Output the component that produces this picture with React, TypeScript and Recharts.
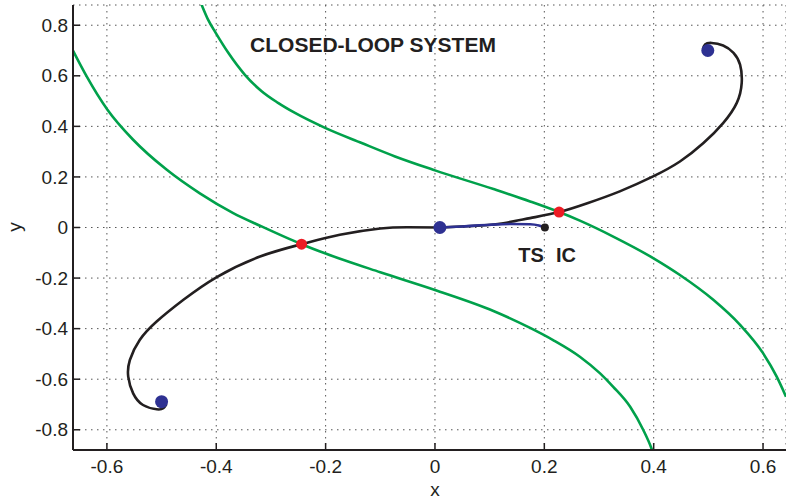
import React from "react";
import {
  ComposedChart,
  Line,
  Scatter,
  XAxis,
  YAxis,
  CartesianGrid,
} from "recharts";

// tick values
const xTicks = [-0.6, -0.4, -0.2, 0, 0.2, 0.4, 0.6];
const yTicks = [-0.8, -0.6, -0.4, -0.2, 0, 0.2, 0.4, 0.6, 0.8];

// green curve crossing from upper left down to the bottom
const greenAX = [-0.663, -0.637, -0.599, -0.552, -0.491, -0.43, -0.369, -0.32, -0.244, -0.2, -0.1, 0, 0.107, 0.174, 0.216, 0.265, 0.302, 0.326, 0.357, 0.381, 0.396, 0.397];
const greenAY = [0.704, 0.598, 0.466, 0.347, 0.229, 0.135, 0.057, 0.007, -0.066, -0.103, -0.177, -0.247, -0.33, -0.397, -0.445, -0.511, -0.577, -0.63, -0.709, -0.801, -0.874, -0.88];

// green curve from the top down to the right edge
const greenBX = [-0.427, -0.415, -0.401, -0.378, -0.348, -0.317, -0.287, -0.256, -0.201, -0.134, -0.073, 0, 0.107, 0.174, 0.227, 0.265, 0.326, 0.399, 0.448, 0.509, 0.558, 0.6, 0.625, 0.642];
const greenBY = [0.882, 0.822, 0.77, 0.691, 0.605, 0.539, 0.493, 0.453, 0.394, 0.334, 0.281, 0.226, 0.152, 0.103, 0.061, 0.027, -0.036, -0.121, -0.188, -0.286, -0.385, -0.497, -0.59, -0.669];

// black trajectory, lower left spiral to origin
const blackLX = [-0.491, -0.497, -0.509, -0.534, -0.552, -0.561, -0.558, -0.54, -0.509, -0.46, -0.399, -0.32, -0.244, -0.174, -0.1, -0.05, 0.009];
const blackLY = [-0.698, -0.715, -0.719, -0.702, -0.656, -0.59, -0.524, -0.445, -0.372, -0.286, -0.196, -0.115, -0.066, -0.029, -0.004, 0.001, 0];

// black trajectory, origin to upper right spiral
const blackUX = [0.009, 0.077, 0.125, 0.174, 0.227, 0.28, 0.338, 0.399, 0.448, 0.491, 0.527, 0.552, 0.561, 0.558, 0.546, 0.527, 0.506, 0.494, 0.49];
const blackUY = [0, 0.007, 0.017, 0.037, 0.061, 0.097, 0.143, 0.202, 0.261, 0.334, 0.413, 0.493, 0.572, 0.644, 0.691, 0.72, 0.73, 0.724, 0.704];

// blue path from IC to TS
const blueX = [0.009, 0.05, 0.1, 0.14, 0.174, 0.19, 0.201];
const blueY = [0, 0.004, 0.011, 0.014, 0.013, 0.008, 0];

// markers
const blueDotsX = [-0.5, 0.499, 0.009];
const blueDotsY = [-0.689, 0.7, 0];
const redDotsX = [-0.244, 0.227];
const redDotsY = [-0.066, 0.061];
const icDotX = [0.201];
const icDotY = [0];

const zip = (xs: number[], ys: number[]) => xs.map((x, i) => ({ x, y: ys[i] }));

const INK = "#231F20";
const GREEN = "#00A14B";
const BLUE = "#2E3192";
const RED = "#ED1C24";
const FONT = "'Liberation Sans', Arial, Helvetica, sans-serif";

const BottomTick = ({ x, y, payload }: any) => (
  <g>
    <line x1={x} y1={y} x2={x} y2={y - 7} stroke={INK} strokeWidth={1.5} />
    <text x={x} y={y + 23} textAnchor="middle" fill={INK} fontSize={19} fontFamily={FONT}>
      {payload.value}
    </text>
  </g>
);

const TopTick = ({ x, y }: any) => (
  <line x1={x} y1={y} x2={x} y2={y + 7} stroke={INK} strokeWidth={1.5} />
);

const LeftTick = ({ x, y, payload }: any) => (
  <g>
    <line x1={x} y1={y} x2={x + 7} y2={y} stroke={INK} strokeWidth={1.5} />
    <text x={x - 5} y={y} dy="0.35em" textAnchor="end" fill={INK} fontSize={19} fontFamily={FONT}>
      {payload.value}
    </text>
  </g>
);

const dot = (r: number, fill: string) => (p: any) =>
  <circle cx={p.cx} cy={p.cy} r={r} fill={fill} />;

export default function App() {
  return (
    <div style={{ position: "relative", width: 786, height: 499, background: "#fff" }}>
      <style>{"body{margin:0}"}</style>
      <ComposedChart
        width={786}
        height={499}
        margin={{ top: 5, right: 0, bottom: 0, left: 0 }}
      >
        <CartesianGrid stroke="#555" strokeDasharray="1.5 4.5" strokeWidth={1} />
        <XAxis
          type="number"
          dataKey="x"
          domain={[-0.662, 0.642]}
          ticks={xTicks}
          allowDataOverflow
          height={49}
          tickSize={0}
          tickMargin={0}
          tickLine={false}
          tick={<BottomTick />}
          axisLine={{ stroke: INK, strokeWidth: 2 }}
        />
        <XAxis
          xAxisId="top"
          orientation="top"
          type="number"
          dataKey="x"
          domain={[-0.662, 0.642]}
          ticks={xTicks}
          allowDataOverflow
          height={0}
          tickSize={0}
          tickMargin={0}
          tickLine={false}
          tick={<TopTick />}
          axisLine={{ stroke: INK, strokeWidth: 2 }}
        />
        <YAxis
          type="number"
          dataKey="y"
          domain={[-0.88, 0.88]}
          ticks={yTicks}
          allowDataOverflow
          width={73}
          tickSize={0}
          tickMargin={0}
          tickLine={false}
          tick={<LeftTick />}
          axisLine={{ stroke: INK, strokeWidth: 2 }}
        />
        <Line data={zip(greenAX, greenAY)} dataKey="y" type="monotone" stroke={GREEN} strokeWidth={2.6} dot={false} activeDot={false} isAnimationActive={false} />
        <Line data={zip(greenBX, greenBY)} dataKey="y" type="monotone" stroke={GREEN} strokeWidth={2.6} dot={false} activeDot={false} isAnimationActive={false} />
        <Line data={zip(blackLX, blackLY)} dataKey="y" type="natural" stroke={INK} strokeWidth={2.6} dot={false} activeDot={false} isAnimationActive={false} />
        <Line data={zip(blackUX, blackUY)} dataKey="y" type="natural" stroke={INK} strokeWidth={2.6} dot={false} activeDot={false} isAnimationActive={false} />
        <Line data={zip(blueX, blueY)} dataKey="y" type="monotone" stroke={BLUE} strokeWidth={2.6} dot={false} activeDot={false} isAnimationActive={false} />
        <Scatter data={zip(blueDotsX, blueDotsY)} dataKey="y" shape={dot(6.5, BLUE)} isAnimationActive={false} />
        <Scatter data={zip(redDotsX, redDotsY)} dataKey="y" shape={dot(5.5, RED)} isAnimationActive={false} />
        <Scatter data={zip(icDotX, icDotY)} dataKey="y" shape={dot(4, INK)} isAnimationActive={false} />
      </ComposedChart>
      <svg
        width={786}
        height={499}
        style={{ position: "absolute", left: 0, top: 0, pointerEvents: "none" }}
      >
        <text x={373} y={52} textAnchor="middle" fontSize={21} fontWeight="bold" fill={INK} fontFamily={FONT}>
          CLOSED-LOOP SYSTEM
        </text>
        <text x={531} y={262} textAnchor="middle" fontSize={20} fontWeight="bold" fill={INK} fontFamily={FONT}>
          TS
        </text>
        <text x={566} y={262} textAnchor="middle" fontSize={20} fontWeight="bold" fill={INK} fontFamily={FONT}>
          IC
        </text>
        <text x={435} y={496} textAnchor="middle" fontSize={19} fill={INK} fontFamily={FONT}>
          x
        </text>
        <text x={21} y={227} textAnchor="middle" fontSize={19} fill={INK} fontFamily={FONT} transform="rotate(-90 21 227)">
          y
        </text>
      </svg>
    </div>
  );
}
